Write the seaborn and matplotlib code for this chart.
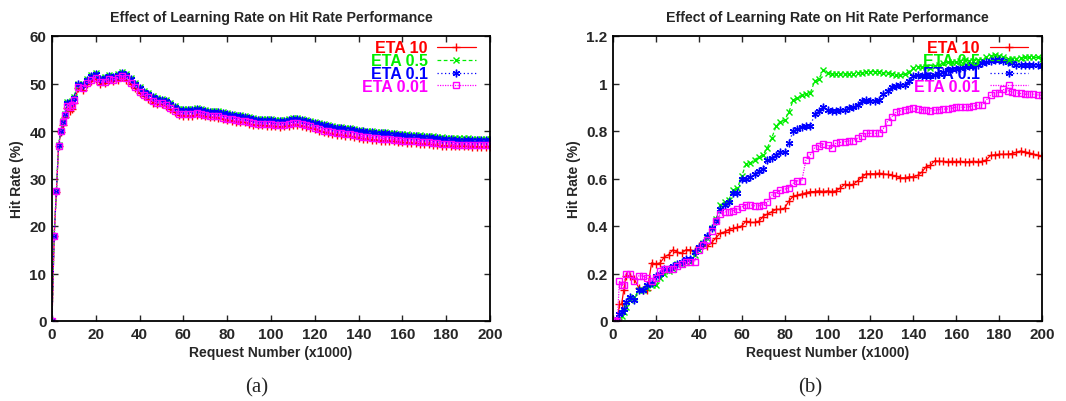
import numpy as np
import pandas as pd
import matplotlib
matplotlib.use("Agg")
import matplotlib.pyplot as plt
from matplotlib.ticker import FuncFormatter
import seaborn as sns

# ---------------- data ----------------
labels = ["ETA 10", "ETA 0.5", "ETA 0.1", "ETA 0.01"]
colors = ["#ff0000", "#00ee00", "#0000ff", "#ff00ff"]

# chart (a): hit rate (%) vs request number (x1000)
xa = list(range(0, 11)) + list(range(12, 201, 2))
a_eta10 = [0, 18, 27.2, 36.8, 39.7, 41.3, 43.0, 44.8, 44.2, 44.6, 46.0,
           49.0, 48.6, 49.9, 50.5, 51.0, 50.0, 50.1, 50.7, 50.5, 50.8,
           51.3, 50.8, 49.9, 49.0, 48.0, 47.3, 46.8, 46.0, 45.6, 45.6,
           45.2, 44.6, 43.9, 43.3, 43.2, 43.2, 43.2, 43.4, 43.3, 43.1,
           42.9, 42.9, 42.8, 42.5, 42.3, 42.2, 42.0, 41.9, 41.8, 41.5,
           41.3, 41.2, 41.2, 41.1, 41.1, 41.0, 40.9, 41.0, 41.1, 41.3,
           41.3, 41.1, 40.9, 40.7, 40.4, 40.1, 39.8, 39.6, 39.4, 39.2,
           39.1, 39.0, 38.9, 38.7, 38.5, 38.4, 38.3, 38.2, 38.1, 38.0,
           38.0, 37.9, 37.8, 37.7, 37.6, 37.5, 37.5, 37.4, 37.3, 37.3,
           37.2, 37.1, 37.0, 36.9, 36.9, 36.8, 36.8, 36.8, 36.8, 36.8,
           36.7, 36.7, 36.7, 36.7, 36.7]
a_eta05 = [0, 18, 27.3, 37.0, 40.1, 42.1, 43.6, 46.1, 46.1, 46.3, 47.2,
           50.0, 49.8, 51.0, 51.7, 52.2, 51.2, 51.4, 51.8, 51.6, 52.0,
           52.4, 52.0, 51.1, 50.2, 49.2, 48.5, 48.0, 47.3, 46.9, 46.8,
           46.5, 45.9, 45.2, 44.7, 44.6, 44.6, 44.6, 44.8, 44.7, 44.5,
           44.3, 44.3, 44.2, 43.9, 43.7, 43.6, 43.4, 43.3, 43.2, 42.9,
           42.7, 42.6, 42.6, 42.5, 42.5, 42.4, 42.3, 42.4, 42.6, 42.8,
           42.8, 42.6, 42.4, 42.2, 41.9, 41.6, 41.4, 41.2, 41.1, 40.9,
           40.8, 40.7, 40.6, 40.4, 40.2, 40.1, 40.0, 39.9, 39.8, 39.8,
           39.7, 39.6, 39.5, 39.4, 39.3, 39.3, 39.2, 39.1, 39.1, 39.0,
           39.0, 38.9, 38.8, 38.7, 38.6, 38.6, 38.5, 38.5, 38.5, 38.5,
           38.4, 38.4, 38.4, 38.4, 38.4]
a_eta01 = [0, 18, 27.3, 37.0, 40.0, 42.0, 43.5, 46.0, 46.0, 46.2, 47.0,
           49.8, 49.6, 50.8, 51.5, 52.0, 51.0, 51.2, 51.6, 51.4, 51.8,
           52.2, 51.8, 50.9, 50.0, 49.0, 48.3, 47.8, 47.1, 46.7, 46.6,
           46.3, 45.7, 45.0, 44.5, 44.4, 44.4, 44.4, 44.6, 44.5, 44.3,
           44.1, 44.1, 44.0, 43.7, 43.5, 43.4, 43.2, 43.1, 43.0, 42.7,
           42.5, 42.4, 42.4, 42.3, 42.3, 42.2, 42.1, 42.2, 42.4, 42.6,
           42.6, 42.4, 42.2, 42.0, 41.7, 41.4, 41.2, 41.0, 40.9, 40.7,
           40.6, 40.5, 40.4, 40.2, 40.0, 39.9, 39.8, 39.7, 39.6, 39.5,
           39.5, 39.4, 39.3, 39.2, 39.1, 39.0, 39.0, 38.9, 38.8, 38.8,
           38.7, 38.6, 38.5, 38.4, 38.3, 38.3, 38.2, 38.2, 38.2, 38.2,
           38.1, 38.1, 38.1, 38.1, 38.1]
a_eta001 = [0, 18, 27.3, 36.9, 39.9, 41.8, 43.3, 45.3, 45.0, 45.5, 46.5,
            49.3, 49.0, 50.2, 50.8, 51.2, 50.3, 50.4, 51.0, 50.8, 51.1,
            51.6, 51.1, 50.2, 49.3, 48.3, 47.6, 47.1, 46.3, 45.9, 45.9,
            45.5, 44.9, 44.2, 43.6, 43.5, 43.5, 43.5, 43.7, 43.6, 43.4,
            43.2, 43.2, 43.1, 42.8, 42.6, 42.5, 42.3, 42.2, 42.1, 41.8,
            41.6, 41.5, 41.5, 41.4, 41.4, 41.3, 41.2, 41.3, 41.4, 41.6,
            41.6, 41.4, 41.2, 41.0, 40.7, 40.4, 40.1, 39.9, 39.8, 39.6,
            39.5, 39.4, 39.3, 39.1, 38.9, 38.8, 38.7, 38.6, 38.5, 38.4,
            38.4, 38.3, 38.2, 38.1, 38.0, 37.9, 37.9, 37.8, 37.7, 37.7,
            37.6, 37.5, 37.4, 37.3, 37.2, 37.2, 37.1, 37.1, 37.1, 37.1,
            37.0, 37.0, 37.0, 37.0, 37.0]

# chart (b): hit rate (%) vs request number (x1000)
xb = list(range(0, 7)) + list(range(8, 201, 2))
b_eta10 = [0, 0, 0, 0.07, 0.07, 0.13, 0.19,
           0.19, 0.175, 0.14, 0.13, 0.13, 0.245, 0.24, 0.245, 0.27, 0.28,
           0.30, 0.29, 0.285, 0.30, 0.30, 0.295, 0.315, 0.32, 0.315, 0.33,
           0.35, 0.37, 0.375, 0.385, 0.39, 0.395, 0.40, 0.42, 0.415, 0.415,
           0.42, 0.44, 0.45, 0.46, 0.47, 0.47, 0.475, 0.505, 0.525, 0.53,
           0.535, 0.54, 0.545, 0.545, 0.548, 0.545, 0.548, 0.545, 0.548, 0.56,
           0.575, 0.572, 0.575, 0.59, 0.605, 0.62, 0.62, 0.62, 0.622, 0.62,
           0.617, 0.613, 0.61, 0.603, 0.603, 0.607, 0.607, 0.613, 0.627, 0.65,
           0.655, 0.675, 0.673, 0.672, 0.67, 0.672, 0.671, 0.672, 0.67, 0.671,
           0.672, 0.671, 0.672, 0.678, 0.697, 0.70, 0.702, 0.702, 0.703, 0.705,
           0.71, 0.716, 0.712, 0.708, 0.703, 0.698, 0.695]
b_eta05 = [0, 0, 0, 0, 0.02, 0.04, 0.06,
           0.09, 0.10, 0.13, 0.13, 0.14, 0.15, 0.15, 0.18, 0.20, 0.21,
           0.22, 0.24, 0.24, 0.25, 0.25, 0.28, 0.30, 0.33, 0.35, 0.39,
           0.43, 0.49, 0.50, 0.51, 0.55, 0.56, 0.61, 0.66, 0.665, 0.68,
           0.69, 0.70, 0.73, 0.77, 0.82, 0.84, 0.845, 0.88, 0.93, 0.94,
           0.95, 0.955, 0.96, 1.01, 1.02, 1.055, 1.045, 1.04, 1.04, 1.04,
           1.04, 1.04, 1.04, 1.045, 1.045, 1.05, 1.05, 1.05, 1.05, 1.045,
           1.045, 1.04, 1.035, 1.035, 1.04, 1.05, 1.065, 1.07, 1.07, 1.068,
           1.065, 1.075, 1.08, 1.085, 1.09, 1.09, 1.09, 1.095, 1.10, 1.095,
           1.095, 1.10, 1.10, 1.11, 1.115, 1.118, 1.115, 1.11, 1.105, 1.105,
           1.105, 1.108, 1.11, 1.11, 1.11, 1.11, 1.105]
b_eta01 = [0, 0, 0, 0.03, 0.04, 0.05, 0.08,
           0.10, 0.09, 0.13, 0.13, 0.15, 0.16, 0.19, 0.20, 0.22, 0.22,
           0.23, 0.24, 0.25, 0.26, 0.26, 0.29, 0.31, 0.33, 0.36, 0.39,
           0.42, 0.47, 0.49, 0.50, 0.54, 0.54, 0.60, 0.60, 0.605, 0.62,
           0.63, 0.64, 0.68, 0.685, 0.70, 0.71, 0.71, 0.75, 0.80, 0.81,
           0.815, 0.82, 0.82, 0.87, 0.885, 0.90, 0.89, 0.885, 0.885, 0.888,
           0.89, 0.895, 0.90, 0.91, 0.925, 0.93, 0.928, 0.925, 0.93, 0.955,
           0.97, 0.985, 0.99, 0.993, 0.995, 1.01, 1.03, 1.035, 1.033, 1.03,
           1.03, 1.035, 1.04, 1.05, 1.055, 1.06, 1.062, 1.066, 1.07, 1.072,
           1.075, 1.08, 1.085, 1.09, 1.095, 1.10, 1.10, 1.095, 1.09, 1.085,
           1.08, 1.08, 1.08, 1.08, 1.08, 1.078, 1.075]
b_eta001 = [0, 0, 0, 0.17, 0.15, 0.15, 0.20,
            0.20, 0.17, 0.19, 0.19, 0.18, 0.17, 0.18, 0.21, 0.22, 0.22,
            0.22, 0.23, 0.24, 0.25, 0.25, 0.25, 0.30, 0.32, 0.34, 0.38,
            0.42, 0.45, 0.46, 0.46, 0.465, 0.47, 0.48, 0.49, 0.49, 0.485,
            0.485, 0.49, 0.50, 0.53, 0.54, 0.55, 0.555, 0.56, 0.58, 0.59,
            0.59, 0.68, 0.70, 0.73, 0.735, 0.745, 0.74, 0.73, 0.75, 0.752,
            0.755, 0.758, 0.76, 0.77, 0.78, 0.79, 0.79, 0.79, 0.79, 0.81,
            0.84, 0.86, 0.88, 0.885, 0.89, 0.893, 0.895, 0.892, 0.89, 0.888,
            0.885, 0.888, 0.89, 0.892, 0.893, 0.896, 0.90, 0.90, 0.90, 0.902,
            0.905, 0.908, 0.91, 0.93, 0.95, 0.96, 0.962, 0.975, 0.97, 0.965,
            0.96, 0.958, 0.955, 0.955, 0.955, 0.952, 0.95]

x_ticks = [0, 20, 40, 60, 80, 100, 120, 140, 160, 180, 200]
ya_ticks = [0, 10, 20, 30, 40, 50, 60]
yb_ticks = [0, 0.2, 0.4, 0.6, 0.8, 1.0, 1.2]

title = "Effect of Learning Rate on Hit Rate Performance"
xlabel = "Request Number (x1000)"
ylabel = "Hit Rate (%)"

# ---------------- style ----------------
sns.set_style("ticks")
plt.rcParams["font.family"] = ["Liberation Sans", "DejaVu Sans"]
plt.rcParams["font.weight"] = "bold"
plt.rcParams["axes.labelweight"] = "bold"
plt.rcParams["axes.titleweight"] = "bold"

markers = ["+", "x", (6, 2, 0), "s"]
msizes = [5.5, 5, 5.5, 5]
linestyles = ["-", (0, (3, 2)), (0, (1, 2)), (0, (1, 1))]

fig = plt.figure(figsize=(10.66, 4.02), dpi=100)
ax_a = fig.add_axes([52 / 1066, 80 / 402, 438 / 1066, 285 / 402])
ax_b = fig.add_axes([613 / 1066, 80 / 402, 429 / 1066, 285 / 402])


def draw(ax, x, series, yticks, ymax, fmt):
    for lab, y, c, m, ms, ls in zip(labels, series, colors, markers, msizes, linestyles):
        df = pd.DataFrame({"x": x, "y": y})
        mfc = "none" if m == "s" else c
        sns.lineplot(data=df, x="x", y="y", ax=ax, color=c, marker=m,
                     markersize=ms, markeredgecolor=c, markerfacecolor=mfc,
                     markeredgewidth=1.0, linestyle=ls, linewidth=0.9,
                     label=lab, estimator=None, sort=False, errorbar=None)
    ax.set_xlim(0, 200)
    ax.set_ylim(0, ymax)
    ax.set_xticks(x_ticks)
    ax.set_yticks(yticks)
    ax.yaxis.set_major_formatter(FuncFormatter(fmt))
    ax.tick_params(direction="in", length=4, width=1, top=True, right=True,
                   labelsize=11, pad=4)
    for t in ax.get_xticklabels() + ax.get_yticklabels():
        t.set_fontweight("bold")
    for s in ax.spines.values():
        s.set_linewidth(1.3)
        s.set_color("black")
    ax.set_title(title, fontsize=10.2, fontweight="bold", pad=11)
    ax.set_xlabel(xlabel, fontsize=10, fontweight="bold", labelpad=3)
    ax.set_ylabel(ylabel, fontsize=10, fontweight="bold", labelpad=4)
    leg = ax.legend(loc="upper right", bbox_to_anchor=(0.967, 0.985),
                    markerfirst=False, frameon=False, labelcolor="linecolor",
                    numpoints=1, handlelength=2.4, handletextpad=0.6,
                    labelspacing=-0.13, borderpad=0, borderaxespad=0,
                    prop={"family": ["Liberation Sans"], "weight": "bold", "size": 11.5})
    return leg


draw(ax_a, xa, [a_eta10, a_eta05, a_eta01, a_eta001], ya_ticks, 60,
     lambda v, p: f"{v:g}")
draw(ax_b, xb, [b_eta10, b_eta05, b_eta01, b_eta001], yb_ticks, 1.2,
     lambda v, p: f"{v:g}")

fig.text(257 / 1066, 1 - 388 / 402, "(a)", ha="center", va="center",
         fontsize=15, family=["Liberation Serif"], fontweight="normal")
fig.text(810 / 1066, 1 - 388 / 402, "(b)", ha="center", va="center",
         fontsize=15, family=["Liberation Serif"], fontweight="normal")

fig.savefig("out.png", dpi=100, facecolor="white")
